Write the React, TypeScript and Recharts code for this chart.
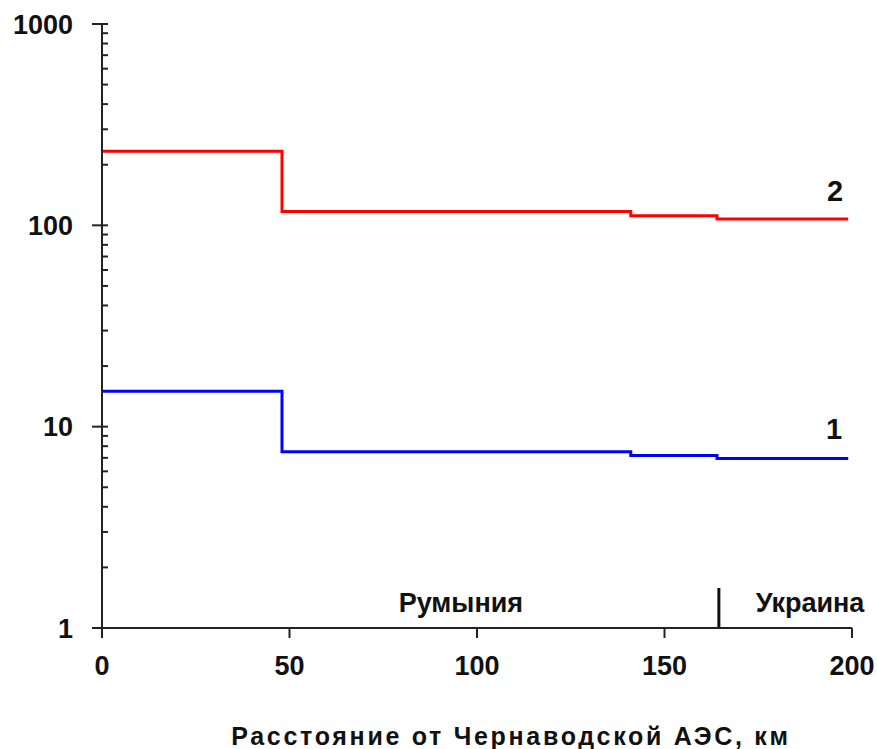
import React from 'react';
import { LineChart, Line, XAxis, YAxis, ReferenceLine, ReferenceDot, Label } from 'recharts';

// Distances (km) where the step changes, and final point
const distances = [0, 48, 141, 164, 199];
// Series 1 (blue) and 2 (red) values, stepAfter
const series1 = [15.0, 7.5, 7.2, 6.95, 6.95];
const series2 = [233, 117, 111.5, 107.5, 107.5];

const xTicks = [0, 50, 100, 150, 200];
const yMajorTicks = [1, 10, 100, 1000];
const yMinorTicks = [2, 3, 4, 5, 6, 7, 8, 9, 20, 30, 40, 50, 60, 70, 80, 90, 200, 300, 400, 500, 600, 700, 800, 900];

const borderKm = 164.5;
const borderTop = 1.58;
const regionLabels = [
  { name: 'Румыния', x: 95.7, y: 1.34 },
  { name: 'Украина', x: 188.8, y: 1.34 },
];
const seriesLabels = [
  { name: '2', x: 195.5, y: 149 },
  { name: '1', x: 195.2, y: 9.8 },
];

const data = distances.map((d, i) => ({ d, s1: series1[i], s2: series2[i] }));

const FONT = '"Liberation Sans", Arial, sans-serif';
const Y_TICK_SIZE = 10;
const Y_TICK_MARGIN = 19;

const YTick = (props: any) => {
  const { x, y, payload } = props;
  const axisX = x + Y_TICK_SIZE + Y_TICK_MARGIN;
  const major = yMajorTicks.includes(payload.value);
  if (major) {
    return (
      <g>
        <line x1={axisX - 10} x2={axisX + 6} y1={y} y2={y} stroke="#222" strokeWidth={2} />
        <text x={x} y={y} dy="0.36em" textAnchor="end" fontFamily={FONT} fontWeight="bold" fontSize={27} fill="#111">
          {payload.value}
        </text>
      </g>
    );
  }
  return <line x1={axisX} x2={axisX + 6} y1={y} y2={y} stroke="#222" strokeWidth={2} />;
};

export default function App() {
  return (
    <div style={{ position: 'absolute', left: 0, top: 0, background: '#fff' }}>
      <LineChart width={877} height={749} data={data} margin={{ top: 24, right: 25, bottom: 0, left: 0 }}>
        <XAxis
          dataKey="d"
          type="number"
          domain={[0, 200]}
          ticks={xTicks}
          height={121}
          tickSize={10}
          tickMargin={18}
          stroke="#222"
          strokeWidth={2}
          tick={{ fontFamily: FONT, fontWeight: 'bold', fontSize: 27, fill: '#111' }}
          allowDataOverflow
        >
          <Label
            content={(p: any) => {
              const vb = p.viewBox;
              return (
                <text
                  x={vb.x + vb.width / 2 + 34}
                  y={vb.y + vb.height - 4}
                  textAnchor="middle"
                  fontFamily={FONT}
                  fontWeight="bold"
                  fontSize={25}
                  letterSpacing={2.7}
                  fill="#111"
                >
                  Расстояние от Чернаводской АЭС, км
                </text>
              );
            }}
          />
        </XAxis>
        <YAxis
          scale="log"
          domain={[1, 1000]}
          ticks={[...yMajorTicks, ...yMinorTicks]}
          width={102}
          tickSize={Y_TICK_SIZE}
          tickMargin={Y_TICK_MARGIN}
          tickLine={false}
          stroke="#222"
          strokeWidth={2}
          tick={<YTick />}
          interval={0}
          allowDataOverflow
        />
        <Line type="stepAfter" dataKey="s2" stroke="#ff0000" strokeWidth={3} dot={false} isAnimationActive={false} />
        <Line type="stepAfter" dataKey="s1" stroke="#0000ff" strokeWidth={3} dot={false} isAnimationActive={false} />
        <ReferenceLine
          segment={[{ x: borderKm, y: 1 }, { x: borderKm, y: borderTop }]}
          stroke="#111"
          strokeWidth={3}
        />
        {regionLabels.map((l) => (
          <ReferenceDot key={l.name} x={l.x} y={l.y} r={0} fill="none" stroke="none">
            <Label
              content={(p: any) => {
                const vb = p.viewBox;
                const cx = vb.cx ?? vb.x + (vb.width || 0) / 2;
                const cy = vb.cy ?? vb.y + (vb.height || 0) / 2;
                return (
                  <text x={cx} y={cy} dy="0.36em" textAnchor="middle" fontFamily={FONT} fontWeight="bold" fontSize={27} fill="#111">
                    {l.name}
                  </text>
                );
              }}
            />
          </ReferenceDot>
        ))}
        {seriesLabels.map((l) => (
          <ReferenceDot key={l.name} x={l.x} y={l.y} r={0} fill="none" stroke="none">
            <Label
              content={(p: any) => {
                const vb = p.viewBox;
                const cx = vb.cx ?? vb.x + (vb.width || 0) / 2;
                const cy = vb.cy ?? vb.y + (vb.height || 0) / 2;
                return (
                  <text x={cx} y={cy} dy="0.36em" textAnchor="middle" fontFamily={FONT} fontWeight="bold" fontSize={29} fill="#111">
                    {l.name}
                  </text>
                );
              }}
            />
          </ReferenceDot>
        ))}
      </LineChart>
    </div>
  );
}
